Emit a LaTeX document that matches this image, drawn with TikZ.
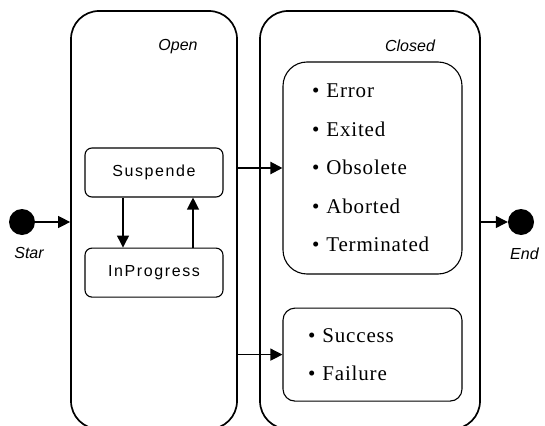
\documentclass[tikz,border=0pt]{standalone}
\usepackage{fontspec}
\setmainfont{Liberation Serif}
\setsansfont{Liberation Sans}
\usetikzlibrary{positioning, arrows.meta}

\begin{document}
\begin{tikzpicture}[x=1pt, y=-1pt,
	phase/.style={rectangle, rounded corners=28pt, draw=black, line width=1.7pt, minimum width=#1, minimum height=418pt},
	substate/.style={rectangle, rounded corners=7pt, draw=black, line width=1.1pt, minimum width=138pt, minimum height=49pt,
		font=\sffamily\fontsize{16}{18}\selectfont\addfontfeatures{LetterSpace=10}},
	result/.style={rectangle, draw=black, line width=1.1pt, minimum width=179pt, inner ysep=0pt, align=left,
		font=\fontsize{21}{38.5}\selectfont\addfontfeatures{LetterSpace=4}},
	phaselbl/.style={font=\sffamily\itshape\fontsize{16}{18}\selectfont, inner sep=0pt},
	dot/.style={circle, fill=black, minimum size=26pt, inner sep=0pt},
	flow/.style={-{Triangle[length=12pt,width=12pt]}, line width=1.2pt}]
	\useasboundingbox (0,0) rectangle (545,425);

	% composite states
	\node[phase=166pt] (open) at (154,220) {};
	\node[phase=220pt] (closed) at (370,220) {};
	\node[phaselbl] (openlbl) at (178,47) {Open};
	\node[phaselbl] (closedlbl) at (410,46) {Closed};

	% inner states
	\node[substate] (suspended) at (154,172.5) {Suspende};
	\node[substate, below=50pt of suspended] (inprogress) {InProgress};

	\node[result, rounded corners=24pt, minimum height=212pt, inner xsep=29pt, text width=121pt] (errors) at (372.5,168)
		{\textbullet\hspace{7pt}Error\\ \textbullet\hspace{7pt}Exited\\ \textbullet\hspace{7pt}Obsolete\\
		 \textbullet\hspace{7pt}Aborted\\ \textbullet\hspace{7pt}Terminated};
	\node[result, rounded corners=12pt, minimum height=93pt, inner xsep=25pt, text width=129pt, below=33pt of errors] (outcome)
		{\textbullet\hspace{7pt}Success\\ \textbullet\hspace{7pt}Failure};

	% pseudo states
	\node[dot] (start) at (22,222) {};
	\node[phaselbl] (startlbl) at (29,253) {Star};
	\node[dot] (finish) at (521,222) {};
	\node[phaselbl, anchor=west] (finishlbl) at (510,254) {End};

	% transitions
	\draw[flow] (start) -- (open.west |- start);
	\draw[flow] ([xshift=-31pt]suspended.south) -- ([xshift=-31pt]inprogress.north);
	\draw[flow] ([xshift=39pt]inprogress.north) -- ([xshift=39pt]suspended.south);
	\draw[flow, line width=2.2pt] (open.east |- errors.west) -- (errors.west);
	\draw[flow] (open.east |- outcome.west) -- (outcome.west);
	\draw[flow] (closed.east |- finish) -- (finish);
\end{tikzpicture}
\end{document}
